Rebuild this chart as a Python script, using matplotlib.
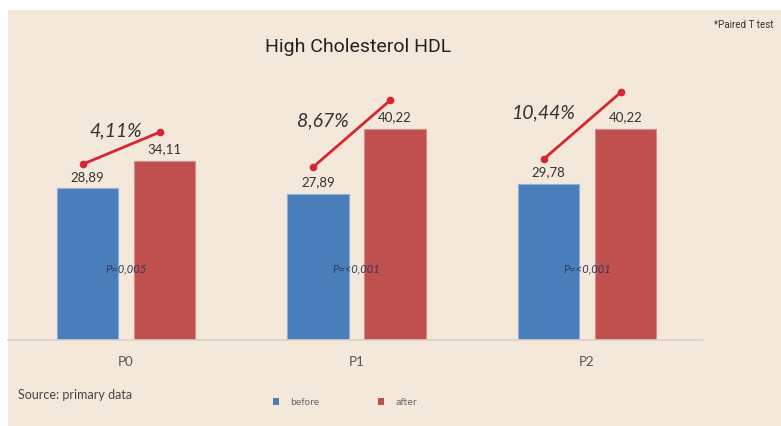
import matplotlib
matplotlib.use("Agg")
import matplotlib.pyplot as plt
from matplotlib.patches import Rectangle, Patch
import numpy as np

# ---- data ----
categories = ["P0", "P1", "P2"]
before = [28.89, 27.89, 29.78]
after = [34.11, 40.22, 40.22]
value_labels_before = ["28,89", "27,89", "29,78"]
value_labels_after = ["34,11", "40,22", "40,22"]
pct_labels = ["4,11%", "8,67%", "10,44%"]
p_labels = ["P=0,005", "P=<0,001", "P=<0,001"]
line_start = [33.5, 33.0, 34.5]
line_end = [39.6, 45.7, 47.2]

# ---- layout / style ----
W, H = 781, 427
BG = "#f4e8da"
BLUE = "#4a7ebb"
RED = "#c0504d"
LINE_RED = "#d7262f"

fig = plt.figure(figsize=(W / 100, H / 100), dpi=100)
fig.patch.set_facecolor("white")

bg_ax = fig.add_axes([8 / W, 0, 1 - 8 / W, (H - 11) / H], zorder=-10)
bg_ax.set_facecolor(BG)
bg_ax.set_xticks([])
bg_ax.set_yticks([])
for s in bg_ax.spines.values():
    s.set_visible(False)

ax = fig.add_axes([8 / W, (H - 341) / H, (703 - 8) / W, (341 - 11) / H], zorder=1)
ax.set_facecolor("none")
ax.set_xlim(-0.512, 2.503)
ax.set_ylim(0, 62.86)

x = np.arange(len(categories))
off = 0.167
bw = 0.265
ax.bar(x - off, before, bw, color=BLUE, edgecolor="#8fb0d8", linewidth=0.8, zorder=2)
ax.bar(x + off, after, bw, color=RED, edgecolor="#d98a88", linewidth=0.8, zorder=2)

for i in range(len(categories)):
    ax.text(x[i] - off, before[i] + 1.2, value_labels_before[i], ha="center", va="bottom",
            fontsize=9.5, color="#333333", family=["Lato", "DejaVu Sans"])
    ax.text(x[i] + off, after[i] + 1.2, value_labels_after[i], ha="center", va="bottom",
            fontsize=9.5, color="#333333", family=["Lato", "DejaVu Sans"])
    ax.plot([x[i] - off - 0.02, x[i] + off - 0.02], [line_start[i], line_end[i]],
            color=LINE_RED, lw=2, marker="o", ms=4.5, zorder=3, solid_capstyle="round")
    ax.text(x[i], 13.7, p_labels[i], ha="center", va="center", fontsize=8,
            style="italic", color="#2b3a5e", family=["Lato", "DejaVu Sans"], zorder=4)

pct_dx = [-0.045, -0.145, -0.19]
pct_y = [40.0, 41.9, 43.4]
for i in range(len(categories)):
    ax.text(x[i] + pct_dx[i], pct_y[i], pct_labels[i], ha="center", va="center",
            fontsize=14, style="italic", color="#333333", family=["Lato", "DejaVu Sans"])

for s in ["top", "right", "left"]:
    ax.spines[s].set_visible(False)
ax.spines["bottom"].set_color("#d8d0c6")
ax.spines["bottom"].set_linewidth(1.2)
ax.set_yticks([])
ax.set_xticks(x)
ax.set_xticklabels(categories, fontsize=9.5, color="#555555", family=["Lato", "DejaVu Sans"])
ax.tick_params(axis="x", length=0, pad=11)

fig.text(358 / W, 1 - 47 / H, "High Cholesterol HDL", ha="center", va="center",
         fontsize=14, color="#222222", family=["Liberation Sans Narrow", "Roboto", "DejaVu Sans"])
fig.text(714 / W, 1 - 25 / H, "*Paired T test", ha="left", va="center",
         fontsize=7, color="#333333", family=["Liberation Sans Narrow", "Roboto", "DejaVu Sans"])
fig.text(18 / W, 1 - 395 / H, "Source: primary data", ha="left", va="center",
         fontsize=9, color="#444444", family=["Lato", "DejaVu Sans"])

handles = [Patch(facecolor=BLUE, edgecolor="none", label="before"),
           Patch(facecolor=RED, edgecolor="none", label="after")]
leg = fig.legend(handles=handles, loc="center", bbox_to_anchor=(345 / W, 1 - 403 / H),
                 ncol=2, frameon=False, fontsize=6.5, handlelength=0.7, handleheight=0.9,
                 handletextpad=1.2, columnspacing=6.5)
for t in leg.get_texts():
    t.set_color("#666666")

fig.savefig("out.png", dpi=100, facecolor=fig.get_facecolor())
